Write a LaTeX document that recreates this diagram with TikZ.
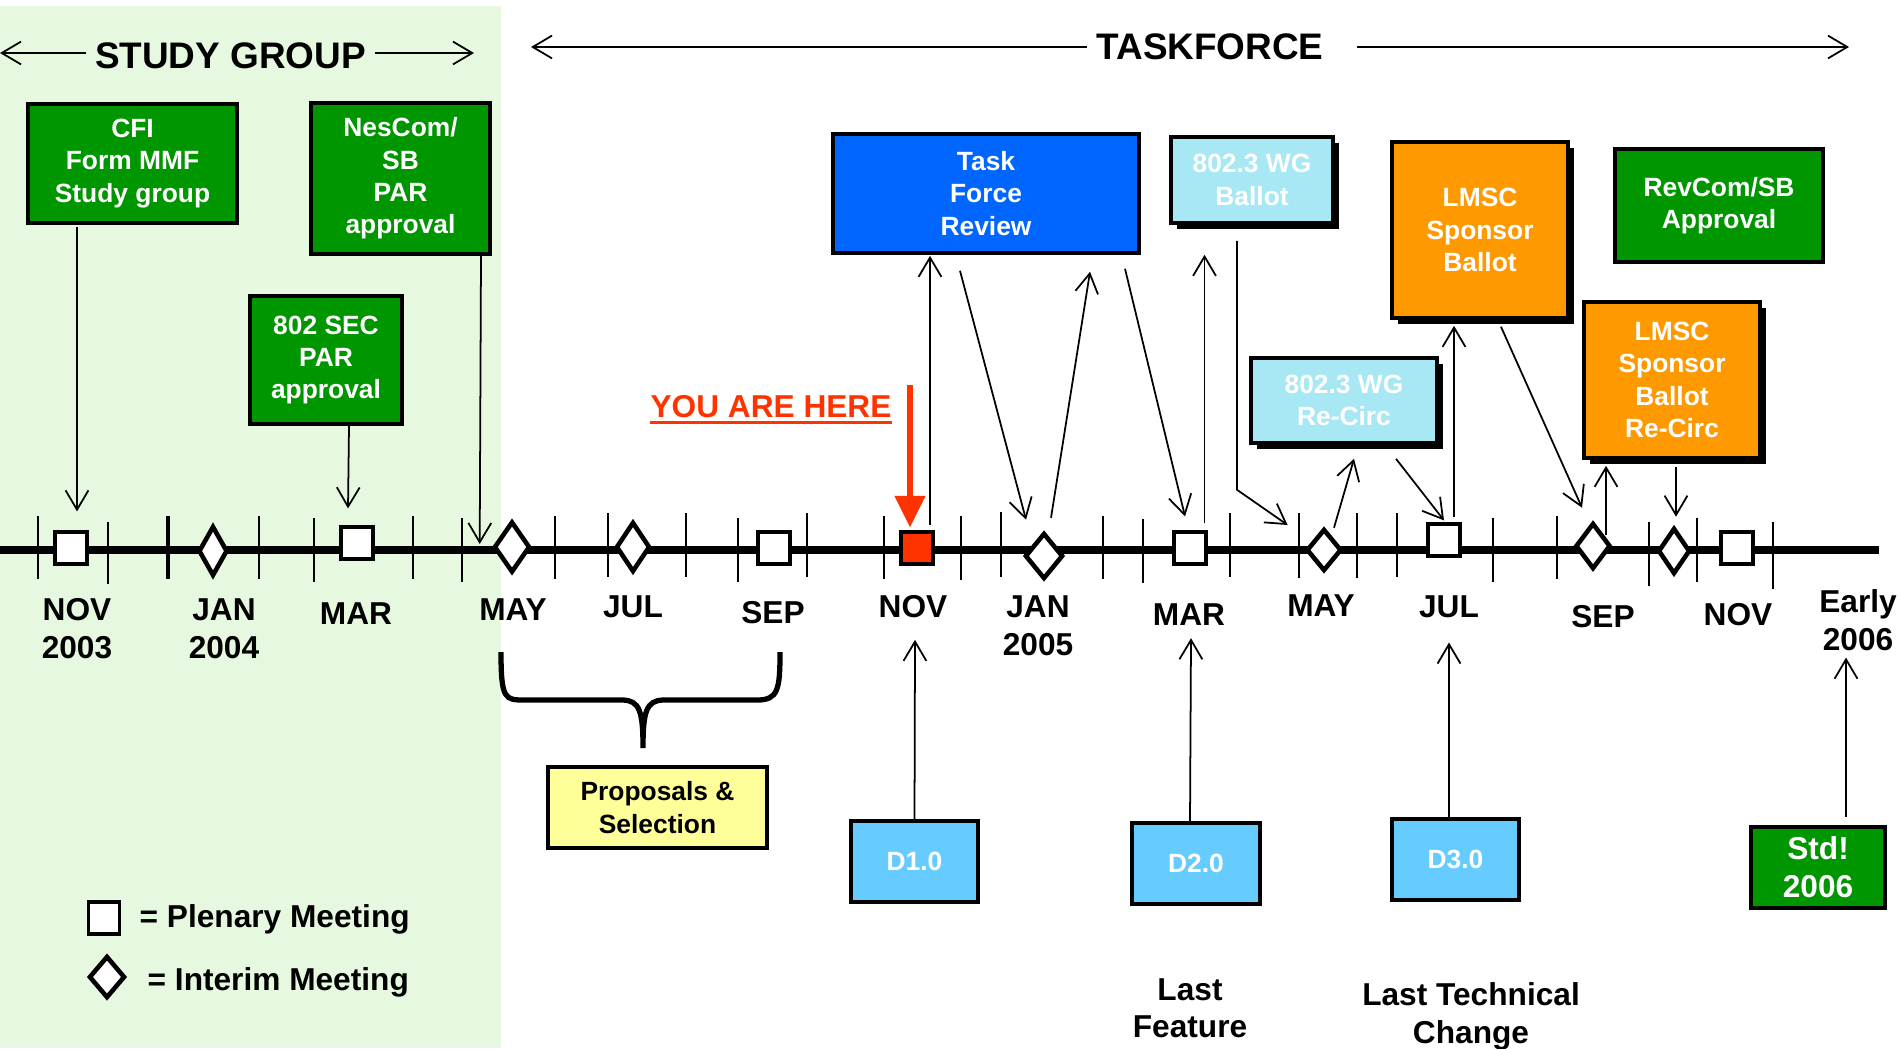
\documentclass[tikz,border=0pt]{standalone}
\usepackage{fontspec}
\setmainfont{Liberation Sans}
\usepackage{tikz}
\usetikzlibrary{shapes.geometric,arrows.meta,calc,shadows}
\definecolor{sgreen}{RGB}{0,150,0}
\definecolor{bggreen}{RGB}{230,249,224}
\definecolor{tfblue}{RGB}{0,102,255}
\definecolor{wgcyan}{RGB}{168,232,244}
\definecolor{lorange}{RGB}{255,153,0}
\definecolor{pyellow}{RGB}{255,255,153}
\definecolor{dblue}{RGB}{102,204,255}
\definecolor{hered}{RGB}{255,51,0}

\begin{document}
\begin{tikzpicture}[x=0.01cm, y=-0.01cm,
	>={Straight Barb[length=5.5pt,width=6.5pt]},
	box/.style={draw, line width=1pt, inner sep=0pt, align=center, text=white, font=\bfseries\fontsize{7.5}{9.2}\selectfont},
	gbox/.style={box, fill=sgreen},
	shbox/.style={box, drop shadow={shadow xshift=0.06cm, shadow yshift=-0.06cm, fill=black, opacity=1}},
	plen/.style={draw, fill=white, line width=0.9pt, minimum size=0.32cm, inner sep=0pt},
	intr/.style={draw, fill=white, diamond, line width=1.3pt, inner sep=0pt},
	mon/.style={anchor=north, inner sep=0pt, align=center, font=\bfseries\fontsize{9}{10.8}\selectfont},
	note/.style={inner sep=0pt, font=\bfseries\fontsize{9}{10.8}\selectfont},
	title/.style={inner sep=2.5pt, font=\bfseries\fontsize{10.5}{12}\selectfont},
	link/.style={->, line width=0.5pt}]
		\useasboundingbox (0,0) rectangle (1901,1048);
		\fill[bggreen] (0,6) rectangle (501,1048);

		\node[title] (sg) at (230.5,56) {STUDY GROUP};
		\node[title] (tf) at (1210,47) {TASKFORCE};
		\coordinate (sgl) at (0,53);
		\coordinate (sgr) at (474,53);
		\coordinate (tfa) at (531,47);
		\coordinate (tfb) at (1849,47);
		\coordinate (herearr) at (910,385);

		\node[gbox, minimum width=2.09cm, minimum height=1.19cm] (cfi) at (132.5,163.5) {CFI\\Form MMF\\Study group};
		\node[gbox, minimum width=1.79cm, minimum height=1.51cm] (nescom) at (400.5,178.5) {NesCom/\\SB\\PAR\\approval};
		\node[gbox, minimum width=1.52cm, minimum height=1.28cm] (sec) at (326,360) {802 SEC\\PAR\\approval};
		\node[box, fill=tfblue, minimum width=3.06cm, minimum height=1.19cm] (review) at (986,193.5) {Task\\Force\\Review};
		\node[shbox, fill=wgcyan, minimum width=1.62cm, minimum height=0.86cm] (wgb) at (1252,180) {802.3 WG\\Ballot};
		\node[shbox, fill=wgcyan, minimum width=1.86cm, minimum height=0.85cm] (wgr) at (1344,400.5) {802.3 WG\\Re-Circ};
		\node[shbox, fill=lorange, minimum width=1.76cm, minimum height=1.76cm] (lsb) at (1480,230) {LMSC\\Sponsor\\Ballot};
		\node[gbox, minimum width=2.08cm, minimum height=1.13cm] (rev) at (1719,205.5) {RevCom/SB\\Approval};
		\node[shbox, fill=lorange, minimum width=1.76cm, minimum height=1.56cm] (lsr) at (1672,380) {LMSC\\Sponsor\\Ballot\\Re-Circ};
		\node[box, fill=pyellow, text=black, minimum width=2.19cm, minimum height=0.81cm] (prop) at (657.5,807.5) {Proposals \&\\Selection};
		\node[box, fill=dblue, minimum width=1.27cm, minimum height=0.81cm] (d1) at (914.5,861.5) {D1.0};
		\node[box, fill=dblue, minimum width=1.28cm, minimum height=0.81cm] (d2) at (1196,863.5) {D2.0};
		\node[box, fill=dblue, minimum width=1.27cm, minimum height=0.81cm] (d3) at (1455.5,859.5) {D3.0};
		\node[gbox, minimum width=1.34cm, minimum height=0.81cm, font=\bfseries\fontsize{9}{10.8}\selectfont] (std) at (1818,867.5) {Std!\\2006};

		\draw[line width=2pt] (0,550) -- (1879,550);
		\foreach \tx/\ta/\tb in {38/516/579, 108/522/584, 259/516/579, 314/518/582, 413/516/579, 462/518/582, 555/516/579, 608/513/577, 686/513/577, 738/518/582, 807/513/577, 884/516/579, 961/516/580, 1001/512/577, 1103/516/579, 1143/519/583, 1230/513/577, 1299/513/578, 1357/513/578, 1397/513/577, 1493/518/582, 1557/516/579, 1649/522/586, 1697/518/582, 1773/522/589}
			\draw[line width=0.6pt] (\tx,\ta) -- (\tx,\tb);
		\draw[line width=1.1pt] (168,516) -- (168,579);

		\node[plen] (p1) at (71,548) {};
		\node[intr, minimum width=0.29cm, minimum height=0.5cm] (i1) at (213,551) {};
		\node[plen] (p2) at (357,543) {};
		\node[intr, minimum width=0.36cm, minimum height=0.51cm] (i2) at (512,547) {};
		\node[intr, minimum width=0.34cm, minimum height=0.5cm] (i3) at (633,547) {};
		\node[plen] (p3) at (774,548) {};
		\node[plen, fill=hered] (p4) at (917,548) {};
		\node[intr, minimum width=0.38cm, minimum height=0.46cm] (i4) at (1044,556) {};
		\node[plen] (p5) at (1190,548) {};
		\node[intr, minimum width=0.35cm, minimum height=0.42cm] (i5) at (1324,550) {};
		\node[plen] (p6) at (1444,540) {};
		\node[intr, minimum width=0.35cm, minimum height=0.46cm] (i6) at (1593,546) {};
		\node[intr, minimum width=0.32cm, minimum height=0.46cm] (i7) at (1674,551) {};
		\node[plen] (p7) at (1737,548) {};

		\foreach \n/\mx/\my/\txt in {1/77/598/{NOV\\2003}, 2/224/598/{JAN\\2004}, 3/356/602/{MAR}, 4/513/598/{MAY}, 5/633/595/{JUL}, 6/773/601/{SEP}, 7/913/595/{NOV}, 8/1038/595/{JAN\\2005}, 9/1189/603/{MAR}, 10/1321/594/{MAY}, 11/1449/595/{JUL}, 12/1603/605/{SEP}, 13/1738/603/{NOV}, 14/1858/589/{Early\\2006}}
			\node[mon] (m\n) at (\mx,\my) {\txt};

		\node[note, text=hered, anchor=base] (here) at (771,417) {YOU ARE HERE};
		\draw[hered, line width=0.9pt] ($(here.base west)+(0,5.5)$) -- ($(here.base east)+(0,5.5)$);
		\node[plen, minimum width=0.31cm] (lp) at (104,918) {};
		\node[note, anchor=base west] (lpt) at (139,927.5) {= Plenary Meeting};
		\node[intr, minimum width=0.36cm, minimum height=0.42cm] (li) at (107,977) {};
		\node[note, anchor=base west] (lit) at (147,990.5) {= Interim Meeting};
		\node[mon] (lf) at (1190,977.5) {Last\\Feature};
		\node[mon] (ltc) at (1471,981.5) {Last Technical\\Change};

		\draw[line width=1.5pt] (501,652) .. controls (501,700) and (505,700) .. (525,700) -- (622,700) .. controls (640,700) and (643,712) .. (643,748) .. controls (643,712) and (646,700) .. (664,700) -- (757,700) .. controls (778,700) and (780,690) .. (780,652);

		\draw[link] (sg.west |- sgl) to (sgl);
		\draw[link] (sg.east |- sgr) to (sgr);
		\draw[link] (tf.west) to (tfa);
		\draw[link] ($(tf.east)+(24,0)$) to (tfb);

		\draw[link] ($(cfi.south)+(-55.5,2)$) to ($(p1.north)+(6,-19)$);
		\draw[link] ($(sec.south)+(23,0)$) to ($(p2.north)+(-9,-17)$);
		\draw[link] ($(nescom.south)+(80.5,0)$) to ($(i2.west)+(-12,-3)$);
		\draw[-{Triangle[length=9pt,width=8.5pt]}, hered, line width=1.5pt] (herearr) to ($(p4.north)+(-7,-3)$);
		\draw[link] ($(p4.north)+(13,-5)$) to ($(review.south)+(-56,1)$);
		\draw[link] ($(review.south)+(-26,16)$) to ($(i4.north)+(-18,-11)$);
		\draw[link] ($(i4.north)+(7,-13)$) to ($(review.south)+(104,17)$);
		\draw[link] ($(review.south)+(139,14)$) to ($(p5.north)+(-5,-14)$);
		\draw[link] ($(p5.north)+(14.5,-7)$) to ($(wgb.south)+(-47.5,30)$);
		\draw[link] ($(wgb.south)+(-15,16)$) -- ++(0,249) to ($(i5.west)+(-16.6,-25)$);
		\draw[link] ($(i5.north)+(10,1)$) to ($(wgr.south)+(10,14)$);
		\draw[link] ($(wgr.south)+(52,14)$) to ($(p6.north)+(0,-2)$);
		\draw[link] ($(p6.north)+(10,-5)$) to ($(lsb.south)+(-26,6)$);
		\draw[link] ($(lsb.south)+(21,7)$) to ($(i6.north)+(-11,-13)$);
		\draw[link] ($(i6.north)+(13,14)$) to ($(lsr.south)+(-66,6)$);
		\draw[link] ($(lsr.south)+(4,7)$) to ($(i7.north)+(2,-9)$);
		\draw[link] (d1.north) to ($(m7.south)+(2,21)$);
		\draw[link] ($(d2.north)+(-6,0)$) to ($(m9.south)+(2,12)$);
		\draw[link] ($(d3.north)+(-6.5,0)$) to ($(m11.south)+(0,24)$);
		\draw[link] ($(std.north)+(28,-8)$) to ($(m14.south)+(-12,6)$);

	\end{tikzpicture}
\end{document}
